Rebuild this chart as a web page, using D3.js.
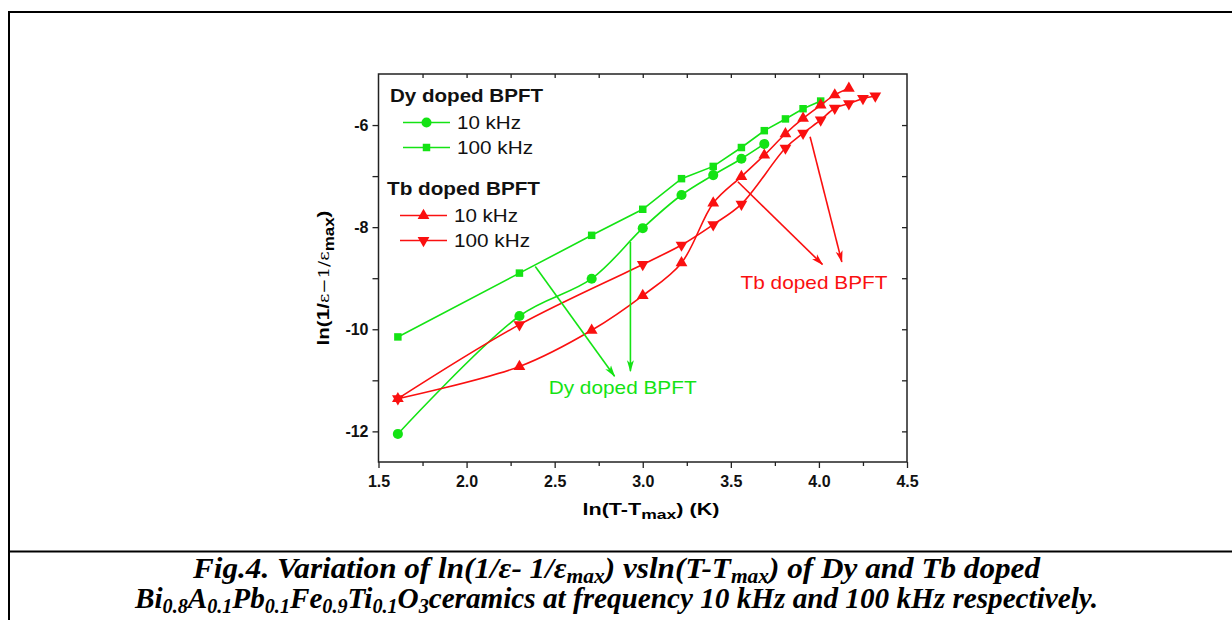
<!DOCTYPE html>
<html>
<head>
<meta charset="utf-8">
<script src="https://cdn.jsdelivr.net/npm/d3@7"></script>
<style>
  body { margin: 0; background: #fff; }
  text { font-family: "Liberation Sans", Arial, sans-serif; }
</style>
</head>
<body>
<svg id="chart"></svg>
<script>
// values: x = ln(T-Tmax), y = ln(1/eps - 1/eps_max)
const dyX10 = [1.61, 2.30, 2.71, 3.00, 3.22, 3.40, 3.56, 3.69];
const dy10 = [-12.05, -9.74, -9.01, -8.02, -7.37, -6.98, -6.66, -6.37];
const dyX100 = [1.61, 2.30, 2.71, 3.00, 3.22, 3.40, 3.56, 3.69, 3.81, 3.91, 4.01];
const dy100 = [-10.15, -8.90, -8.16, -7.65, -7.05, -6.81, -6.44, -6.11, -5.88, -5.68, -5.53];
const tbX10 = [1.61, 2.30, 2.71, 3.00, 3.22, 3.40, 3.56, 3.69, 3.81, 3.91, 4.01, 4.09, 4.17];
const tb10 = [-11.36, -10.73, -10.02, -9.34, -8.70, -7.53, -7.01, -6.59, -6.17, -5.87, -5.61, -5.41, -5.28];
const tbX100 = [1.61, 2.30, 3.00, 3.22, 3.40, 3.56, 3.81, 3.91, 4.01, 4.09, 4.17, 4.25, 4.32];
const tb100 = [-11.36, -9.91, -8.73, -8.35, -7.95, -7.55, -6.45, -6.16, -5.90, -5.67, -5.58, -5.48, -5.43];

const xTicks = [1.5, 2.0, 2.5, 3.0, 3.5, 4.0, 4.5];
const yTicks = [-6, -8, -10, -12];

// annotation arrows (data coords) : [from, to]
const dyArrows = [[[2.39, -8.77], [2.84, -10.92]], [[2.93, -8.29], [2.93, -10.82]]];
const tbArrows = [[[3.54, -7.11], [4.02, -8.73]], [[3.95, -6.23], [4.13, -8.68]]];

const green = "#14e314";
const red = "#fa1010";

const width = 1232, height = 620;
const svg = d3.select("#chart")
    .attr("width", width)
    .attr("height", height)
    .style("display", "block");

// figure box + caption separator
svg.append("path")
    .attr("d", "M9,620 V12 H1232")
    .attr("fill", "none")
    .attr("stroke", "#000")
    .attr("stroke-width", 2);
svg.append("line")
    .attr("x1", 9).attr("x2", 1232)
    .attr("y1", 551.5).attr("y2", 551.5)
    .attr("stroke", "#000")
    .attr("stroke-width", 2.2);

const x = d3.scaleLinear().domain([1.5, 4.5]).range([378.5, 907]);
const y = d3.scaleLinear().domain([-12.6, -5]).range([462, 74]);

// axes
const bottom = svg.append("g")
    .attr("transform", `translate(0,${y.range()[0]})`)
    .call(d3.axisBottom(x).tickValues(xTicks).tickSize(6).tickPadding(8).tickFormat(d3.format(".1f")));
bottom.append("g").call(d3.axisBottom(x).tickValues(d3.range(1.75, 4.5, 0.5)).tickSize(4).tickFormat(""));

const left = svg.append("g")
    .attr("transform", `translate(${x.range()[0]},0)`)
    .call(d3.axisLeft(y).tickValues(yTicks).tickSize(6).tickPadding(4).tickFormat(d => String(d)));
left.append("g").call(d3.axisLeft(y).tickValues([-7, -9, -11]).tickSize(6).tickFormat(""));

svg.append("g")
    .attr("transform", `translate(0,${y.range()[1]})`)
    .call(d3.axisBottom(x).tickValues(d3.range(1.75, 4.5, 0.25)).tickSize(4).tickFormat(""));
svg.append("g")
    .attr("transform", `translate(${x.range()[1]},0)`)
    .call(d3.axisLeft(y).tickValues([-6, -7, -8, -9, -10, -11, -12]).tickSize(5).tickFormat(""));

svg.selectAll(".domain").remove();
svg.selectAll(".tick line").attr("stroke", "#222").attr("stroke-width", 1.3);
svg.selectAll(".tick text")
    .style("font-size", "16px")
    .style("font-weight", "bold")
    .attr("fill", "#111");

svg.append("rect")
    .attr("x", x.range()[0]).attr("y", y.range()[1])
    .attr("width", x.range()[1] - x.range()[0])
    .attr("height", y.range()[0] - y.range()[1])
    .attr("fill", "none")
    .attr("stroke", "#222")
    .attr("stroke-width", 1.5);

// axis titles
const xt = svg.append("text")
    .attr("x", 651).attr("y", 515)
    .attr("text-anchor", "middle")
    .attr("textLength", 137).attr("lengthAdjust", "spacingAndGlyphs")
    .style("font-size", "16px").style("font-weight", "bold");
xt.append("tspan").text("ln(T-T");
xt.append("tspan").attr("dy", 4).style("font-size", "13px").text("max");
xt.append("tspan").attr("dy", -4).text(") (K)");

const yt = svg.append("text")
    .attr("transform", "translate(329,278) rotate(-90)")
    .attr("text-anchor", "middle")
    .attr("textLength", 135).attr("lengthAdjust", "spacingAndGlyphs")
    .style("font-size", "17px").style("font-weight", "bold");
yt.append("tspan").text("ln(1/");
yt.append("tspan").style("font-weight", "normal").style("font-family", "DejaVu Serif").style("font-size", "15px").text("ε−1/ε");
yt.append("tspan").attr("dy", 5).style("font-size", "14px").text("max");
yt.append("tspan").attr("dy", -5).text(")");

// series
const series = [
    { xs: dyX10, ys: dy10, color: green, type: d3.symbolCircle, size: 80, rot: 0, curve: d3.curveCatmullRom },
    { xs: dyX100, ys: dy100, color: green, type: d3.symbolSquare, size: 56, rot: 0, curve: d3.curveLinear },
    { xs: tbX10, ys: tb10, color: red, type: d3.symbolTriangle, size: 60, rot: 0, curve: d3.curveCatmullRom },
    { xs: tbX100, ys: tb100, color: red, type: d3.symbolTriangle, size: 60, rot: 180, curve: d3.curveCatmullRom }
];

series.forEach(s => {
    const pts = s.xs.map((v, i) => [v, s.ys[i]]);
    svg.append("path")
        .datum(pts)
        .attr("fill", "none")
        .attr("stroke", s.color)
        .attr("stroke-width", 1.6)
        .attr("d", d3.line().x(d => x(d[0])).y(d => y(d[1])).curve(s.curve));
    svg.selectAll(null)
        .data(pts)
        .enter()
        .append("path")
        .attr("transform", d => `translate(${x(d[0])},${y(d[1])}) rotate(${s.rot})`)
        .attr("d", d3.symbol().type(s.type).size(s.size))
        .attr("fill", s.color);
});

// arrows
const defs = svg.append("defs");
[["gHead", green], ["rHead", red]].forEach(([id, c]) => {
    defs.append("marker")
        .attr("id", id)
        .attr("markerUnits", "userSpaceOnUse")
        .attr("viewBox", "0 0 12 8")
        .attr("refX", 11).attr("refY", 4)
        .attr("markerWidth", 12).attr("markerHeight", 8)
        .attr("orient", "auto")
        .append("path")
        .attr("d", "M0,0.5 L12,4 L0,7.5 L3,4 Z")
        .attr("fill", c);
});

function drawArrows(list, color, head) {
    svg.selectAll(null)
        .data(list)
        .enter()
        .append("line")
        .attr("x1", d => x(d[0][0])).attr("y1", d => y(d[0][1]))
        .attr("x2", d => x(d[1][0])).attr("y2", d => y(d[1][1]))
        .attr("stroke", color)
        .attr("stroke-width", 1.6)
        .attr("marker-end", `url(#${head})`);
}
drawArrows(dyArrows, green, "gHead");
drawArrows(tbArrows, red, "rHead");

svg.append("text")
    .attr("x", x(2.886)).attr("y", y(-11.27))
    .attr("text-anchor", "middle")
    .attr("textLength", 148).attr("lengthAdjust", "spacingAndGlyphs")
    .style("font-size", "19px")
    .attr("fill", green)
    .text("Dy doped BPFT");
svg.append("text")
    .attr("x", x(3.972)).attr("y", y(-9.22))
    .attr("text-anchor", "middle")
    .attr("textLength", 147).attr("lengthAdjust", "spacingAndGlyphs")
    .style("font-size", "19px")
    .attr("fill", red)
    .text("Tb doped BPFT");

// legend
const legend = [
    { head: "Dy doped BPFT", hx: 390, hy: 102, items: [
        { label: "10 kHz", s: series[0], lx: 403, ly: 122.5, tw: 64 },
        { label: "100 kHz", s: series[1], lx: 403, ly: 147.5, tw: 76 }
    ]},
    { head: "Tb doped BPFT", hx: 387, hy: 195, items: [
        { label: "10 kHz", s: series[2], lx: 400, ly: 215.5, tw: 64 },
        { label: "100 kHz", s: series[3], lx: 400, ly: 240.5, tw: 76 }
    ]}
];
legend.forEach(grp => {
    svg.append("text")
        .attr("x", grp.hx).attr("y", grp.hy)
        .attr("textLength", 153).attr("lengthAdjust", "spacingAndGlyphs")
        .style("font-size", "19px").style("font-weight", "bold")
        .attr("fill", "#111")
        .text(grp.head);
    grp.items.forEach(it => {
        svg.append("line")
            .attr("x1", it.lx).attr("x2", it.lx + 47)
            .attr("y1", it.ly).attr("y2", it.ly)
            .attr("stroke", it.s.color).attr("stroke-width", 1.6);
        svg.append("path")
            .attr("transform", `translate(${it.lx + 23.5},${it.ly}) rotate(${it.s.rot})`)
            .attr("d", d3.symbol().type(it.s.type).size(it.s.size))
            .attr("fill", it.s.color);
        svg.append("text")
            .attr("x", it.lx + 54).attr("y", it.ly + 6)
            .attr("textLength", it.tw).attr("lengthAdjust", "spacingAndGlyphs")
            .style("font-size", "18px")
            .attr("fill", "#111")
            .text(it.label);
    });
});

// caption
const capStyle = t => t.attr("text-anchor", "middle")
    .style("font-family", "'Liberation Serif', 'Times New Roman', serif")
    .style("font-style", "italic").style("font-weight", "bold")
    .style("font-size", "29px").attr("fill", "#000")
    .attr("lengthAdjust", "spacingAndGlyphs");

const c1 = svg.append("text").attr("x", 616.5).attr("y", 578).attr("textLength", 847).call(capStyle);
c1.append("tspan").text("Fig.4. Variation of ln(1/ε- 1/ε");
c1.append("tspan").attr("dy", 5).style("font-size", "20px").text("max");
c1.append("tspan").attr("dy", -5).text(") vsln(T-T");
c1.append("tspan").attr("dy", 5).style("font-size", "20px").text("max");
c1.append("tspan").attr("dy", -5).text(") of Dy and Tb doped");

const c2 = svg.append("text").attr("x", 616.5).attr("y", 608).attr("textLength", 963).call(capStyle);
[["Bi", "0.8"], ["A", "0.1"], ["Pb", "0.1"], ["Fe", "0.9"], ["Ti", "0.1"], ["O", "3"]].forEach(([el, sub], i) => {
    c2.append("tspan").attr("dy", i === 0 ? 0 : -5).text(el);
    c2.append("tspan").attr("dy", 5).style("font-size", "20px").text(sub);
});
c2.append("tspan").attr("dy", -5).text("ceramics at frequency 10 kHz and 100 kHz respectively.");
</script>
</body>
</html>
